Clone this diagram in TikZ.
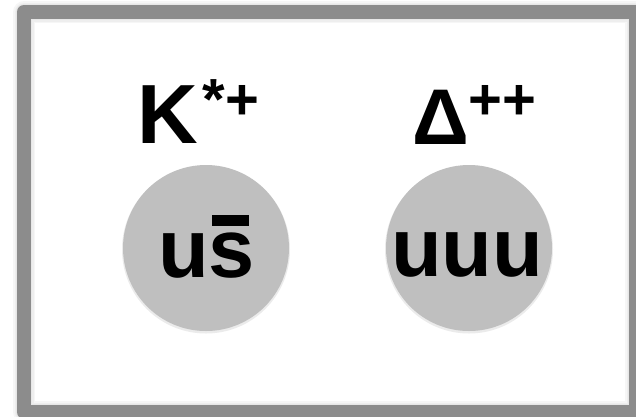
\documentclass[tikz,border=0pt]{standalone}
\usepackage{fontspec}
\setmainfont{Liberation Sans}
\definecolor{framegray}{HTML}{8C8C8C}
\definecolor{ballgray}{HTML}{BFBFBF}
\begin{document}
\begin{tikzpicture}[x=1pt,y=-1pt,
  frame/.style={draw=framegray, line width=14pt, line join=round},
  halo/.style={draw=framegray, line join=round, opacity=0.07},
  ball/.style={circle, fill=ballgray, minimum size=166pt, inner sep=0pt},
  ballshadow/.style={circle, fill=black, opacity=0.08, minimum size=168pt, inner sep=0pt},
  lbl/.style={anchor=base west, inner sep=0pt, font=\bfseries\fontsize{84}{90}\selectfont},
  quark/.style={anchor=base west, inner sep=0pt, font=\bfseries\fontsize{83}{90}\selectfont}]
\useasboundingbox (0,0) rectangle (636,416);
\fill[white] (0,0) rectangle (636,416);
\begin{scope}
  \clip (0,0) rectangle (636,416);
  \foreach \w in {22,19,16}
    \draw[halo, line width=\w pt] (24,12) rectangle (636,412);
  \draw[frame] (24,12) rectangle (636,412);
\end{scope}
\node[ballshadow] (ks) at (206,249.5) {};
\node[ballshadow] (ds) at (469,249.5) {};
\node[ball] (kball) at (206,248) {};
\node[ball] (dball) at (469,248) {};
\node[quark] (kq) at (158,277) {u\makebox[0pt][l]{\hspace{3.5pt}\raisebox{51pt}{\rule{37pt}{11pt}}}s};
\node[quark] (dq) at (391,276) {uuu};
\node[lbl] (klbl) at (137,143) {K\kern5pt\raisebox{24pt}{\fontsize{58}{60}\selectfont *+}};
\node[lbl, font=\bfseries\fontsize{79}{90}\selectfont] (dlbl) at (412,144) {Δ\raisebox{25pt}{\fontsize{58}{60}\selectfont ++}};
\end{tikzpicture}
\end{document}
